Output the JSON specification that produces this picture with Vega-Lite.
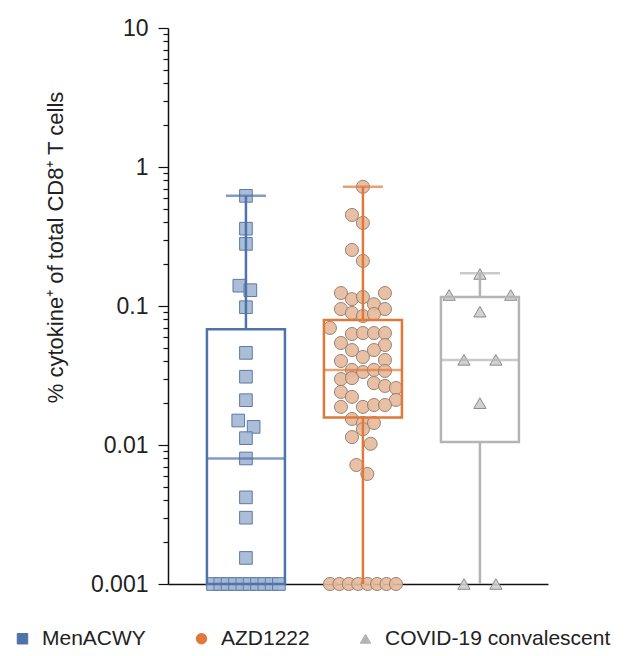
{
  "$schema": "https://vega.github.io/schema/vega-lite/v6.json",
  "width": 380,
  "height": 556,
  "autosize": {"type": "none"},
  "padding": {"left": 168, "top": 28, "right": 96, "bottom": 72},
  "background": "white",
  "config": {"view": {"stroke": null}, "font": "Liberation Sans"},
  "datasets": {
    "points": [
      {"group": "MenACWY", "value": 0.62, "lane": 0},
      {"group": "MenACWY", "value": 0.36, "lane": 0},
      {"group": "MenACWY", "value": 0.28, "lane": 0},
      {"group": "MenACWY", "value": 0.14, "lane": -0.6},
      {"group": "MenACWY", "value": 0.13, "lane": 0.4},
      {"group": "MenACWY", "value": 0.098, "lane": 0},
      {"group": "MenACWY", "value": 0.046, "lane": 0},
      {"group": "MenACWY", "value": 0.031, "lane": 0},
      {"group": "MenACWY", "value": 0.021, "lane": 0},
      {"group": "MenACWY", "value": 0.015, "lane": -0.7},
      {"group": "MenACWY", "value": 0.0135, "lane": 0.7},
      {"group": "MenACWY", "value": 0.0112, "lane": 0},
      {"group": "MenACWY", "value": 0.008, "lane": 0},
      {"group": "MenACWY", "value": 0.0042, "lane": 0},
      {"group": "MenACWY", "value": 0.003, "lane": 0},
      {"group": "MenACWY", "value": 0.00154, "lane": 0},
      {"group": "MenACWY", "value": 0.001, "lane": -3},
      {"group": "MenACWY", "value": 0.001, "lane": -2.33},
      {"group": "MenACWY", "value": 0.001, "lane": -1.67},
      {"group": "MenACWY", "value": 0.001, "lane": -1},
      {"group": "MenACWY", "value": 0.001, "lane": -0.33},
      {"group": "MenACWY", "value": 0.001, "lane": 0.33},
      {"group": "MenACWY", "value": 0.001, "lane": 1},
      {"group": "MenACWY", "value": 0.001, "lane": 1.67},
      {"group": "MenACWY", "value": 0.001, "lane": 2.33},
      {"group": "MenACWY", "value": 0.001, "lane": 3},
      {"group": "AZD1222", "value": 0.72, "lane": 0},
      {"group": "AZD1222", "value": 0.452, "lane": -1},
      {"group": "AZD1222", "value": 0.396, "lane": 0},
      {"group": "AZD1222", "value": 0.253, "lane": -1},
      {"group": "AZD1222", "value": 0.211, "lane": 0},
      {"group": "AZD1222", "value": 0.124, "lane": -2},
      {"group": "AZD1222", "value": 0.124, "lane": 2},
      {"group": "AZD1222", "value": 0.112, "lane": -1},
      {"group": "AZD1222", "value": 0.116, "lane": 0},
      {"group": "AZD1222", "value": 0.103, "lane": 1},
      {"group": "AZD1222", "value": 0.0951, "lane": -2},
      {"group": "AZD1222", "value": 0.0951, "lane": 2},
      {"group": "AZD1222", "value": 0.0891, "lane": -1},
      {"group": "AZD1222", "value": 0.0847, "lane": 0},
      {"group": "AZD1222", "value": 0.0876, "lane": 1},
      {"group": "AZD1222", "value": 0.0695, "lane": -3},
      {"group": "AZD1222", "value": 0.0629, "lane": -1},
      {"group": "AZD1222", "value": 0.0639, "lane": 0},
      {"group": "AZD1222", "value": 0.0639, "lane": 1},
      {"group": "AZD1222", "value": 0.0639, "lane": 2},
      {"group": "AZD1222", "value": 0.0542, "lane": -2},
      {"group": "AZD1222", "value": 0.0524, "lane": 2},
      {"group": "AZD1222", "value": 0.0482, "lane": -1},
      {"group": "AZD1222", "value": 0.0482, "lane": 1},
      {"group": "AZD1222", "value": 0.043, "lane": 0},
      {"group": "AZD1222", "value": 0.0402, "lane": -2},
      {"group": "AZD1222", "value": 0.0409, "lane": 2},
      {"group": "AZD1222", "value": 0.0347, "lane": -1},
      {"group": "AZD1222", "value": 0.0335, "lane": 0},
      {"group": "AZD1222", "value": 0.0347, "lane": 1},
      {"group": "AZD1222", "value": 0.0341, "lane": 2},
      {"group": "AZD1222", "value": 0.0298, "lane": -2},
      {"group": "AZD1222", "value": 0.0303, "lane": -1},
      {"group": "AZD1222", "value": 0.0279, "lane": 1},
      {"group": "AZD1222", "value": 0.0266, "lane": 2},
      {"group": "AZD1222", "value": 0.0257, "lane": 3},
      {"group": "AZD1222", "value": 0.0241, "lane": -2},
      {"group": "AZD1222", "value": 0.0222, "lane": -1},
      {"group": "AZD1222", "value": 0.0211, "lane": 3},
      {"group": "AZD1222", "value": 0.0188, "lane": -2},
      {"group": "AZD1222", "value": 0.0188, "lane": 0},
      {"group": "AZD1222", "value": 0.0194, "lane": 1},
      {"group": "AZD1222", "value": 0.0194, "lane": 2},
      {"group": "AZD1222", "value": 0.0154, "lane": -1},
      {"group": "AZD1222", "value": 0.0144, "lane": 0},
      {"group": "AZD1222", "value": 0.0144, "lane": 1},
      {"group": "AZD1222", "value": 0.013, "lane": 0},
      {"group": "AZD1222", "value": 0.0114, "lane": -1},
      {"group": "AZD1222", "value": 0.0102, "lane": 0.7},
      {"group": "AZD1222", "value": 0.00718, "lane": -0.6},
      {"group": "AZD1222", "value": 0.00619, "lane": 0.4},
      {"group": "AZD1222", "value": 0.001, "lane": -3},
      {"group": "AZD1222", "value": 0.001, "lane": -2.14},
      {"group": "AZD1222", "value": 0.001, "lane": -1.29},
      {"group": "AZD1222", "value": 0.001, "lane": -0.43},
      {"group": "AZD1222", "value": 0.001, "lane": 0.43},
      {"group": "AZD1222", "value": 0.001, "lane": 1.29},
      {"group": "AZD1222", "value": 0.001, "lane": 2.14},
      {"group": "AZD1222", "value": 0.001, "lane": 3},
      {"group": "COVID-19 convalescent", "value": 0.17, "lane": 0},
      {"group": "COVID-19 convalescent", "value": 0.12, "lane": -2.8},
      {"group": "COVID-19 convalescent", "value": 0.12, "lane": 2.8},
      {"group": "COVID-19 convalescent", "value": 0.091, "lane": 0},
      {"group": "COVID-19 convalescent", "value": 0.041, "lane": -1.45},
      {"group": "COVID-19 convalescent", "value": 0.041, "lane": 1.45},
      {"group": "COVID-19 convalescent", "value": 0.02, "lane": 0},
      {"group": "COVID-19 convalescent", "value": 0.001, "lane": -1.45},
      {"group": "COVID-19 convalescent", "value": 0.001, "lane": 1.45}
    ],
    "boxes": [
      {"group": "MenACWY", "min": 0.001, "q1": 0.001, "median": 0.008, "q3": 0.068, "max": 0.62},
      {"group": "AZD1222", "min": 0.001, "q1": 0.0158, "median": 0.0347, "q3": 0.0793, "max": 0.72},
      {"group": "COVID-19 convalescent", "min": 0.001, "q1": 0.0105, "median": 0.0409, "q3": 0.116, "max": 0.172}
    ]
  },
  "encoding": {
    "x": {
      "field": "group",
      "type": "nominal",
      "scale": {"domain": ["MenACWY", "AZD1222", "COVID-19 convalescent"], "paddingInner": 0, "paddingOuter": 0.124, "align": 0.67},
      "axis": {"labels": false, "ticks": false, "title": null, "domainColor": "#111", "domainWidth": 1.5, "grid": false}
    },
    "xOffset": {"field": "lane", "type": "quantitative", "scale": {"domain": [-5.318, 5.318], "range": [0, 117]}},
    "shape": {
      "field": "group",
      "type": "nominal",
      "scale": {"domain": ["MenACWY", "AZD1222", "COVID-19 convalescent"], "range": ["square", "circle", "triangle-up"]},
      "legend": {
        "orient": "none",
        "legendX": -156,
        "legendY": 600,
        "direction": "horizontal",
        "title": null,
        "labelFontSize": 21,
        "labelFont": "Liberation Sans",
        "labelColor": "#222",
        "labelLimit": 400,
        "symbolSize": 110,
        "columnPadding": 45,
        "labelOffset": 9,
        "symbolStrokeWidth": 1,
        "symbolOpacity": 1,
        "encode": {
          "symbols": {
            "fill": {"value": {"expr": "datum.value === 'MenACWY' ? '#6787b7' : datum.value === 'AZD1222' ? '#e2875a' : '#e8e8e8'"}},
            "stroke": {"value": {"expr": "datum.value === 'MenACWY' ? '#6787b7' : datum.value === 'AZD1222' ? '#e2875a' : '#8f8f8f'"}},
            "fillOpacity": {"value": 1}
          }
        }
      }
    }
  },
  "layer": [
    {
      "data": {"name": "points"},
      "transform": [{"filter": "datum.group === 'MenACWY'"}],
      "mark": {"type": "point", "size": 160, "strokeWidth": 1, "opacity": 1, "filled": true, "fill": "#a3b7d3", "stroke": "#5b79a6", "fillOpacity": 0.9},
      "encoding": {
        "y": {
          "field": "value",
          "type": "quantitative",
          "title": "% cytokine⁺ of total CD8⁺ T cells",
          "scale": {"type": "log", "domain": [0.001, 10], "nice": false},
          "axis": {
            "values": [0.001, 0.002, 0.003, 0.004, 0.005, 0.006, 0.007, 0.008, 0.009, 0.01, 0.02, 0.03, 0.04, 0.05, 0.06, 0.07, 0.08, 0.09, 0.1, 0.2, 0.3, 0.4, 0.5, 0.6, 0.7, 0.8, 0.9, 1, 2, 3, 4, 5, 6, 7, 8, 9, 10],
            "labelExpr": "abs(log(datum.value)/LN10 - round(log(datum.value)/LN10)) < 0.000001 ? format(datum.value, '~g') : ''",
            "tickSize": {"condition": {"test": "abs(log(datum.value)/LN10 - round(log(datum.value)/LN10)) < 0.000001", "value": 10}, "value": 5},
            "tickColor": "#111",
            "tickWidth": 1.2,
            "domainColor": "#111",
            "domainWidth": 1.5,
            "grid": false,
            "labelFontSize": 23,
            "labelColor": "#222",
            "labelPadding": 10,
            "labelFont": "Liberation Sans",
            "titleFont": "Liberation Sans",
            "titleFontSize": 22,
            "titleFontWeight": "normal",
            "titleColor": "#222",
            "titleX": -101,
            "titleY": 219
          }
        }
      }
    },
    {
      "data": {"name": "points"},
      "transform": [{"filter": "datum.group === 'AZD1222'"}],
      "mark": {"type": "point", "size": 170, "strokeWidth": 1, "opacity": 1, "filled": true, "fill": "#e6b99b", "stroke": "#9c8272", "fillOpacity": 0.9},
      "encoding": {
        "y": {"field": "value", "type": "quantitative", "title": "% cytokine⁺ of total CD8⁺ T cells", "scale": {"type": "log", "domain": [0.001, 10], "nice": false}}
      }
    },
    {
      "data": {"name": "points"},
      "transform": [{"filter": "datum.group === 'COVID-19 convalescent'"}],
      "mark": {"type": "point", "size": 150, "strokeWidth": 1, "opacity": 1, "filled": true, "fill": "#cdcdcd", "stroke": "#8a8a8a", "fillOpacity": 0.9},
      "encoding": {
        "y": {"field": "value", "type": "quantitative", "title": "% cytokine⁺ of total CD8⁺ T cells", "scale": {"type": "log", "domain": [0.001, 10], "nice": false}}
      }
    },
    {
      "data": {"name": "boxes"},
      "mark": {"type": "rule", "strokeWidth": 2.5},
      "encoding": {
        "xOffset": null,
        "shape": null,
        "y": {"field": "q3", "type": "quantitative", "title": "% cytokine⁺ of total CD8⁺ T cells", "scale": {"type": "log", "domain": [0.001, 10], "nice": false}},
        "y2": {"field": "max"},
        "color": {"field": "group", "type": "nominal", "scale": {"domain": ["MenACWY", "AZD1222", "COVID-19 convalescent"], "range": ["#4e72ac", "#e0783a", "#b4b4b4"]}, "legend": null}
      }
    },
    {
      "data": {"name": "boxes"},
      "mark": {"type": "rule", "strokeWidth": 2.5},
      "encoding": {
        "xOffset": null,
        "shape": null,
        "y": {"field": "min", "type": "quantitative", "title": "% cytokine⁺ of total CD8⁺ T cells", "scale": {"type": "log", "domain": [0.001, 10], "nice": false}},
        "y2": {"field": "q1"},
        "color": {"field": "group", "type": "nominal", "legend": null}
      }
    },
    {
      "data": {"name": "boxes"},
      "mark": {"type": "bar", "filled": false, "strokeWidth": 2.5, "width": 78},
      "encoding": {
        "xOffset": null,
        "shape": null,
        "y": {"field": "q1", "type": "quantitative", "title": "% cytokine⁺ of total CD8⁺ T cells", "scale": {"type": "log", "domain": [0.001, 10], "nice": false}},
        "y2": {"field": "q3"},
        "color": {"field": "group", "type": "nominal", "legend": null}
      }
    },
    {
      "data": {"name": "boxes"},
      "mark": {"type": "tick", "thickness": 2.5, "size": 78},
      "encoding": {
        "xOffset": null,
        "shape": null,
        "y": {"field": "median", "type": "quantitative", "title": "% cytokine⁺ of total CD8⁺ T cells", "scale": {"type": "log", "domain": [0.001, 10], "nice": false}},
        "color": {"field": "group", "type": "nominal", "legend": null}
      }
    },
    {
      "data": {"name": "boxes"},
      "mark": {"type": "tick", "thickness": 2.5, "size": 40},
      "encoding": {
        "xOffset": null,
        "shape": null,
        "y": {"field": "max", "type": "quantitative", "title": "% cytokine⁺ of total CD8⁺ T cells", "scale": {"type": "log", "domain": [0.001, 10], "nice": false}},
        "color": {"field": "group", "type": "nominal", "legend": null}
      }
    }
  ]
}
